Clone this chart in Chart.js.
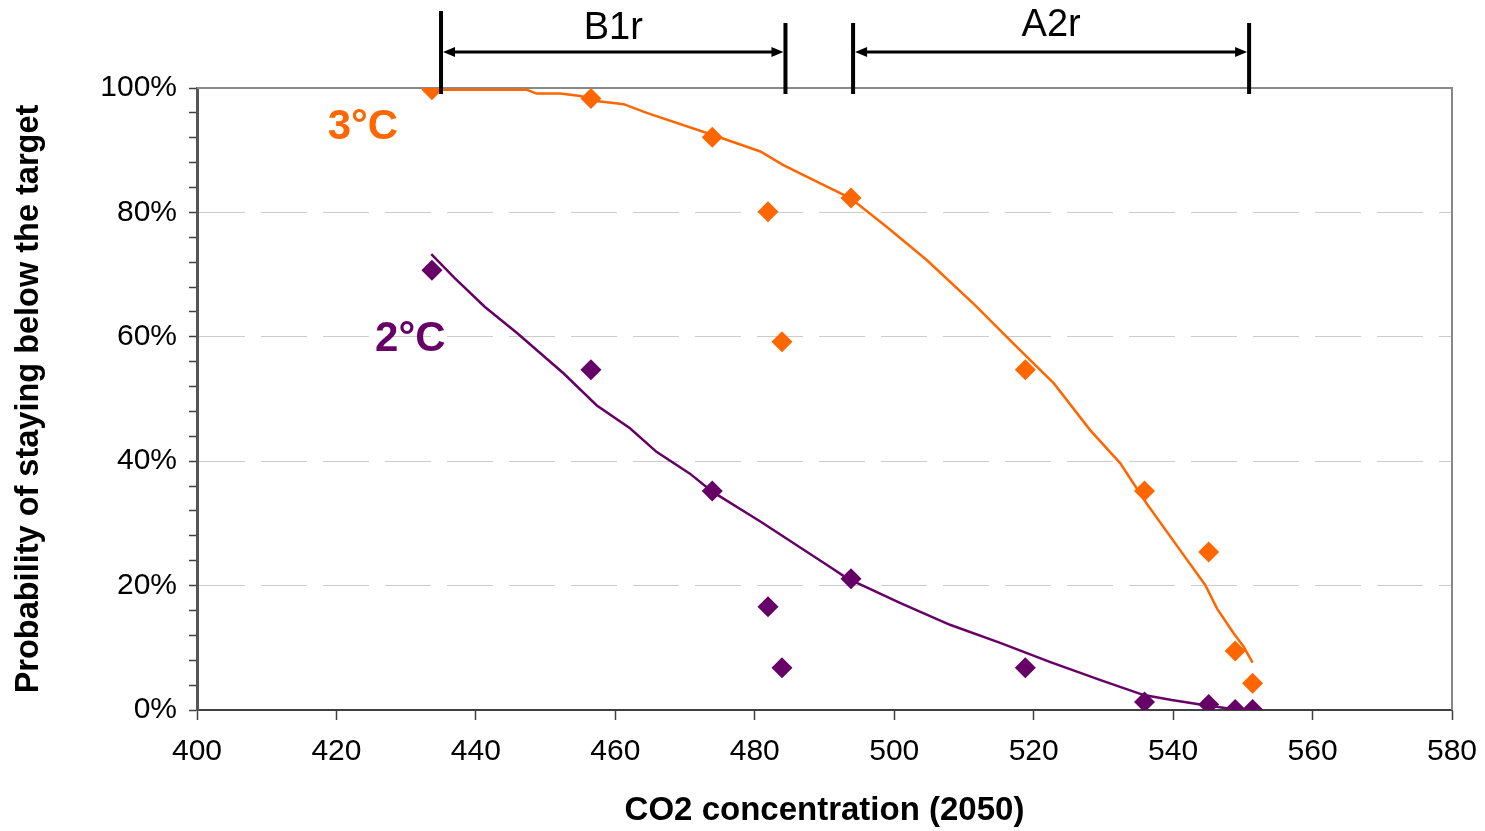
<!DOCTYPE html>
<html>
<head>
<meta charset="utf-8">
<script src="https://cdn.jsdelivr.net/npm/chart.js@4.4.0/dist/chart.umd.min.js"></script>
<style>
  html, body { margin: 0; padding: 0; background: #fff; }
  #wrap { width: 1485px; height: 831px; }
</style>
</head>
<body>
<div id="wrap"><canvas id="chart"></canvas></div>
<script>
// scenario points (CO2 ppm in 2050, probability %)
const co2 = [433.7, 456.5, 473.9, 481.9, 483.9, 493.8, 518.8, 535.9, 545.1, 548.9, 551.4];
const prob3C = [99.7, 98.3, 92.1, 80.1, 59.2, 82.3, 54.7, 35.2, 25.4, 9.5, 4.3];
const prob2C = [70.7, 54.7, 35.2, 16.6, 6.8, 21.1, 6.8, 1.3, 0.9, 0.1, 0.1];

// fitted trend curves
const trendX3 = [435.3, 447.3, 448.7, 452.1, 455.0, 457.3, 461.2, 464.5, 474.1, 480.8, 484.1, 487.5, 493.7, 498.9, 504.7, 511.4, 517.1, 522.9, 528.1, 532.4, 536.2, 541.0, 544.6, 546.3, 548.7, 550.1, 551.4];
const trendY3 = [99.7, 99.7, 99.1, 99.1, 98.7, 97.9, 97.4, 96.0, 92.4, 89.8, 87.6, 85.7, 82.3, 77.7, 72.3, 65.3, 58.9, 52.5, 45.0, 39.7, 33.2, 25.7, 20.1, 16.3, 12.3, 10.2, 7.6];
const trendX2 = [433.6, 437.0, 441.3, 445.9, 452.6, 457.3, 462.1, 465.9, 470.7, 473.9, 480.8, 484.1, 490.8, 493.2, 500.9, 508.0, 515.2, 522.4, 529.6, 535.8, 539.8, 543.9, 547.7, 551.4];
const trendY2 = [73.3, 69.4, 64.8, 60.6, 54.1, 49.0, 45.3, 41.5, 38.0, 35.1, 30.3, 27.9, 23.0, 21.2, 17.2, 13.7, 10.8, 7.7, 4.8, 2.4, 1.6, 0.9, 0.3, 0];

// scenario ranges shown above the plot
const rangeNames = ['B1r', 'A2r'];
const rangeFrom = [435, 494.1];
const rangeTo = [484.4, 550.9];

const ORANGE = '#ff6600';
const PURPLE = '#660066';
const FONT = '"Liberation Sans", Arial, sans-serif';

const pts = (xs, ys) => xs.map((x, i) => ({x: x, y: ys[i]}));

const framePlugin = {
  id: 'frame',
  beforeDatasetsDraw(chart) {
    const {ctx, chartArea: a} = chart;
    ctx.save();
    ctx.strokeStyle = '#888';
    ctx.lineWidth = 2;
    ctx.beginPath();
    ctx.moveTo(a.left, a.top);
    ctx.lineTo(a.right, a.top);
    ctx.lineTo(a.right, a.bottom);
    ctx.stroke();
    ctx.restore();
  },
  afterDraw(chart) {
    const {ctx} = chart;
    const x = chart.scales.x, y = chart.scales.y;

    // temperature labels
    ctx.save();
    ctx.font = 'bold 42px ' + FONT;
    ctx.textAlign = 'center';
    ctx.textBaseline = 'middle';
    ctx.fillStyle = ORANGE;
    ctx.fillText('3°C', x.getPixelForValue(423.8), y.getPixelForValue(93.7));
    ctx.fillStyle = PURPLE;
    ctx.fillText('2°C', x.getPixelForValue(430.6), y.getPixelForValue(59.5));

    // range brackets
    ctx.strokeStyle = '#000';
    ctx.fillStyle = '#000';
    const arrowY = 52;
    rangeNames.forEach((name, i) => {
      const x1 = x.getPixelForValue(rangeFrom[i]);
      const x2 = x.getPixelForValue(rangeTo[i]);
      ctx.lineWidth = 4;
      ctx.beginPath();
      ctx.moveTo(x1, i === 0 ? 11 : 23);
      ctx.lineTo(x1, 94);
      ctx.moveTo(x2, 23);
      ctx.lineTo(x2, 94);
      ctx.stroke();
      ctx.lineWidth = 3;
      ctx.beginPath();
      ctx.moveTo(x1 + 10, arrowY);
      ctx.lineTo(x2 - 10, arrowY);
      ctx.stroke();
      ctx.beginPath();
      ctx.moveTo(x1 + 2, arrowY);
      ctx.lineTo(x1 + 14, arrowY - 5);
      ctx.lineTo(x1 + 14, arrowY + 5);
      ctx.closePath();
      ctx.moveTo(x2 - 2, arrowY);
      ctx.lineTo(x2 - 14, arrowY - 5);
      ctx.lineTo(x2 - 14, arrowY + 5);
      ctx.closePath();
      ctx.fill();
      ctx.font = '38px ' + FONT;
      ctx.textBaseline = 'middle';
      ctx.fillText(name, (x1 + x2) / 2, i === 0 ? 29 : 26);
    });
    ctx.restore();
  }
};

new Chart(document.getElementById('chart'), {
  type: 'scatter',
  data: {
    datasets: [
      {
        label: '3°C trend', data: pts(trendX3, trendY3), showLine: true,
        borderColor: ORANGE, borderWidth: 2.5, pointRadius: 0, tension: 0
      },
      {
        label: '2°C trend', data: pts(trendX2, trendY2), showLine: true,
        borderColor: PURPLE, borderWidth: 2.5, pointRadius: 0, tension: 0
      },
      {
        label: '3°C', data: pts(co2, prob3C), pointStyle: 'rectRot',
        pointRadius: 10.5, backgroundColor: ORANGE, borderColor: ORANGE, borderWidth: 0
      },
      {
        label: '2°C', data: pts(co2, prob2C), pointStyle: 'rectRot',
        pointRadius: 10.5, backgroundColor: PURPLE, borderColor: PURPLE, borderWidth: 0
      }
    ]
  },
  options: {
    responsive: true,
    maintainAspectRatio: false,
    animation: false,
    layout: { padding: { left: 10, right: 33, top: 88, bottom: 0 } },
    plugins: { legend: { display: false }, tooltip: { enabled: false } },
    scales: {
      x: {
        min: 400, max: 580,
        afterFit: (s) => { s.height = 121; s.paddingLeft = 0; s.paddingRight = 0; },
        ticks: {
          stepSize: 20, color: '#000', padding: 14, maxRotation: 0,
          font: { family: FONT, size: 30 }
        },
        grid: { drawOnChartArea: false, tickLength: 10, tickColor: '#404040', tickWidth: 1.5 },
        border: { color: '#404040', width: 2 },
        title: {
          display: true, text: 'CO2 concentration (2050)', color: '#000',
          font: { family: FONT, size: 33, weight: 'bold' }, padding: { top: 0, bottom: 0 }
        }
      },
      y: {
        min: 0, max: 100,
        afterFit: (s) => { s.width = 187; s.paddingTop = 0; s.paddingBottom = 0; },
        ticks: {
          stepSize: 4, autoSkip: false, color: '#000', padding: 12,
          font: { family: FONT, size: 30 },
          callback: (v) => (v % 20 === 0 ? v + '%' : '')
        },
        grid: {
          color: (c) => (c.tick && c.tick.value % 20 === 0 && c.tick.value > 0 && c.tick.value < 100 ? '#cccccc' : 'rgba(0,0,0,0)'),
          tickColor: '#404040', tickLength: 8, tickWidth: 1.5, tickBorderDash: []
        },
        border: { color: '#555', width: 3, dash: [46, 16] },
        title: {
          display: true, text: 'Probability of staying below the target', color: '#000',
          font: { family: FONT, size: 32.5, weight: 'bold' }, padding: { top: 0, bottom: 0 }
        }
      }
    }
  },
  plugins: [framePlugin]
});
</script>
</body>
</html>
